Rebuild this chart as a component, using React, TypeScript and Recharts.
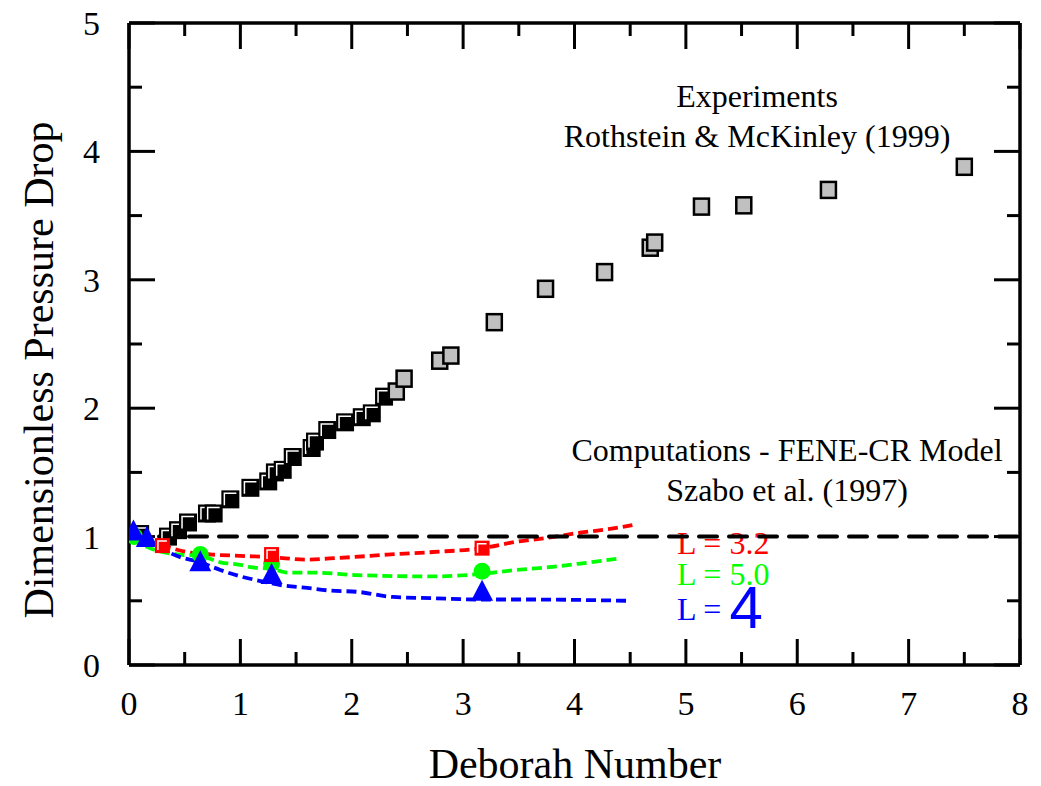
import { ComposedChart, XAxis, YAxis, Line, Scatter, ReferenceLine, Customized } from 'recharts';

const SERIF = '"Liberation Serif", "Times New Roman", serif';
const SANS = '"Liberation Sans", Arial, sans-serif';

const xTicks = [0, 1, 2, 3, 4, 5, 6, 7, 8];
const xMinorTicks = [0.5, 1.5, 2.5, 3.5, 4.5, 5.5, 6.5, 7.5];
const yTicks = [0, 1, 2, 3, 4, 5];
const yMinorTicks = [0.5, 1.5, 2.5, 3.5, 4.5];

// Rothstein & McKinley (1999) - lower De (black) and higher De (grey)
const expBlack = [
  { x: 0.1, y: 1.02 }, { x: 0.35, y: 1.0 }, { x: 0.44, y: 1.05 }, { x: 0.53, y: 1.11 },
  { x: 0.7, y: 1.18 }, { x: 0.76, y: 1.18 }, { x: 0.91, y: 1.29 }, { x: 1.09, y: 1.38 },
  { x: 1.25, y: 1.43 }, { x: 1.31, y: 1.5 }, { x: 1.38, y: 1.52 }, { x: 1.47, y: 1.62 },
  { x: 1.64, y: 1.69 }, { x: 1.67, y: 1.74 }, { x: 1.78, y: 1.83 }, { x: 1.94, y: 1.89 },
  { x: 2.09, y: 1.93 }, { x: 2.18, y: 1.96 }, { x: 2.29, y: 2.09 },
];
const expGray = [
  { x: 2.4, y: 2.13 }, { x: 2.47, y: 2.23 }, { x: 2.79, y: 2.37 }, { x: 2.89, y: 2.41 },
  { x: 3.28, y: 2.67 }, { x: 3.74, y: 2.93 }, { x: 4.27, y: 3.06 }, { x: 4.68, y: 3.25 },
  { x: 4.72, y: 3.29 }, { x: 5.14, y: 3.57 }, { x: 5.52, y: 3.58 }, { x: 6.28, y: 3.7 },
  { x: 7.5, y: 3.88 },
];

// Szabo et al. (1997) FENE-CR computations
const redCurve = [
  { x: 0.03, y: 1.0 }, { x: 0.15, y: 0.96 }, { x: 0.3, y: 0.93 }, { x: 0.52, y: 0.88 },
  { x: 0.75, y: 0.86 }, { x: 1.0, y: 0.85 }, { x: 1.28, y: 0.84 }, { x: 1.6, y: 0.82 },
  { x: 1.8, y: 0.83 }, { x: 2.0, y: 0.84 }, { x: 2.32, y: 0.86 }, { x: 2.73, y: 0.88 },
  { x: 3.17, y: 0.91 }, { x: 3.48, y: 0.96 }, { x: 3.75, y: 0.99 }, { x: 4.05, y: 1.03 },
  { x: 4.32, y: 1.06 }, { x: 4.52, y: 1.09 },
];
const redPoints = [{ x: 0.3, y: 0.93 }, { x: 1.28, y: 0.86 }, { x: 3.17, y: 0.91 }];

const greenCurve = [
  { x: 0.03, y: 0.98 }, { x: 0.22, y: 0.9 }, { x: 0.45, y: 0.86 }, { x: 0.64, y: 0.85 },
  { x: 0.82, y: 0.8 }, { x: 1.0, y: 0.78 }, { x: 1.11, y: 0.76 }, { x: 1.28, y: 0.75 },
  { x: 1.42, y: 0.72 }, { x: 1.65, y: 0.72 }, { x: 2.05, y: 0.7 }, { x: 2.73, y: 0.69 },
  { x: 3.17, y: 0.71 }, { x: 3.48, y: 0.74 }, { x: 3.75, y: 0.76 }, { x: 4.05, y: 0.79 },
  { x: 4.41, y: 0.83 },
];
const greenPoints = [{ x: 0.05, y: 1.0 }, { x: 0.64, y: 0.86 }, { x: 1.28, y: 0.79 }, { x: 3.17, y: 0.73 }];

const blueCurve = [
  { x: 0.03, y: 1.04 }, { x: 0.16, y: 0.97 }, { x: 0.46, y: 0.84 }, { x: 0.64, y: 0.8 },
  { x: 0.82, y: 0.74 }, { x: 1.0, y: 0.69 }, { x: 1.15, y: 0.66 }, { x: 1.38, y: 0.62 },
  { x: 1.6, y: 0.6 }, { x: 1.8, y: 0.58 }, { x: 2.05, y: 0.57 }, { x: 2.37, y: 0.53 },
  { x: 2.73, y: 0.52 }, { x: 3.17, y: 0.51 }, { x: 3.6, y: 0.51 }, { x: 4.48, y: 0.5 },
];
const bluePoints = [{ x: 0.04, y: 1.04 }, { x: 0.16, y: 0.99 }, { x: 0.64, y: 0.8 }, { x: 1.28, y: 0.7 }, { x: 3.17, y: 0.57 }];

const newtonian = [{ x: 0, y: 1 }, { x: 8, y: 1 }];

// inward tick lengths, in axis units (plot is ~891 x 642 px)
const X_MAX = 8;
const Y_MAX = 5;
const tickLenX = (px: number) => (px * X_MAX) / 891;
const tickLenY = (px: number) => (px * Y_MAX) / 642;

const ShadedSquare = (color: string, size: number) => (p: any) => {
  const h = size / 2;
  return (
    <g>
      <rect x={p.cx - h} y={p.cy - h} width={size} height={size} fill={color} />
      <path
        d={`M${p.cx - h + 3} ${p.cy + h - 3} V${p.cy - h + 3} H${p.cx + h - 3}`}
        stroke="#fff"
        strokeWidth={1.5}
        fill="none"
      />
    </g>
  );
};

const GraySquare = (p: any) => (
  <rect x={p.cx - 7.5} y={p.cy - 8} width={15} height={16} fill="#c0c0c0" stroke="#000" strokeWidth={2.5} />
);

const GreenCircle = (p: any) => <circle cx={p.cx} cy={p.cy} r={8.5} fill="#00ff00" />;

const BlueTriangle = (p: any) => (
  <polygon
    points={`${p.cx},${p.cy - 12} ${p.cx + 11},${p.cy + 9} ${p.cx - 11},${p.cy + 9}`}
    fill="#0000ff"
  />
);

const Annotations = () => (
  <g fontFamily={SERIF}>
    <text x={757} y={107} fontSize={32} textAnchor="middle" fill="#000">Experiments</text>
    <text x={757} y={147} fontSize={32} textAnchor="middle" fill="#000">Rothstein &amp; McKinley (1999)</text>
    <text x={787} y={461} fontSize={32} textAnchor="middle" fill="#000">Computations - FENE-CR Model</text>
    <text x={787} y={501} fontSize={32} textAnchor="middle" fill="#000">Szabo et al. (1997)</text>
    <text x={677} y={554} fontSize={32} fill="#ff0000">L = 3.2</text>
    <text x={677} y={585} fontSize={32} fill="#00ff00">L = 5.0</text>
    <text x={677} y={620} fontSize={32} fill="#0000ff">
      L = <tspan fontFamily={SANS} fontSize={60} dy={8}>4</tspan>
    </text>
    <text x={575} y={778} fontSize={42} textAnchor="middle" fill="#000">Deborah Number</text>
    <text x={53} y={370} fontSize={42} textAnchor="middle" fill="#000" transform="rotate(-90 53 370)">
      Dimensionless Pressure Drop
    </text>
  </g>
);

const frameLine = { stroke: '#000', strokeWidth: 3.5 };
const tickProps = { xAxisId: 'main', yAxisId: 'main', stroke: '#000', strokeWidth: 3, ifOverflow: 'visible' as const };

function tickMarks() {
  const marks: any[] = [];
  const add = (ticks: number[], px: number, kind: string) => {
    const lx = tickLenX(px);
    const ly = tickLenY(px);
    ticks.forEach((t) => {
      if (kind === 'x') {
        marks.push(<ReferenceLine key={`b${px}-${t}`} {...tickProps} segment={[{ x: t, y: 0 }, { x: t, y: ly }]} />);
        marks.push(<ReferenceLine key={`t${px}-${t}`} {...tickProps} segment={[{ x: t, y: Y_MAX }, { x: t, y: Y_MAX - ly }]} />);
      } else {
        marks.push(<ReferenceLine key={`l${px}-${t}`} {...tickProps} segment={[{ x: 0, y: t }, { x: lx, y: t }]} />);
        marks.push(<ReferenceLine key={`r${px}-${t}`} {...tickProps} segment={[{ x: X_MAX, y: t }, { x: X_MAX - lx, y: t }]} />);
      }
    });
  };
  add(xTicks, 26, 'x');
  add(xMinorTicks, 13, 'x');
  add(yTicks, 26, 'y');
  add(yMinorTicks, 13, 'y');
  return marks;
}

export default function App() {
  const tickFont = { fontSize: 34, fill: '#000', fontFamily: SERIF };
  return (
    <div style={{ position: 'absolute', left: 0, top: 0, background: '#fff' }}>
      <ComposedChart width={1041} height={786} margin={{ top: 23, right: 21, bottom: 0, left: 0 }}>
        <XAxis xAxisId="main" type="number" dataKey="x" domain={[0, X_MAX]} ticks={xTicks} interval={0}
          allowDataOverflow height={121} tickSize={0} tickMargin={26} tickLine={false} axisLine={frameLine} tick={tickFont} />
        <YAxis yAxisId="main" type="number" dataKey="y" domain={[0, Y_MAX]} ticks={yTicks} interval={0}
          allowDataOverflow width={129} tickSize={0} tickMargin={29} tickLine={false} axisLine={frameLine} tick={tickFont} />

        <ReferenceLine xAxisId="main" yAxisId="main" y={Y_MAX} stroke="#000" strokeWidth={3.5} ifOverflow="visible" />
        <ReferenceLine xAxisId="main" yAxisId="main" x={X_MAX} stroke="#000" strokeWidth={3.5} ifOverflow="visible" />
        {tickMarks()}

        <Scatter xAxisId="main" yAxisId="main" data={expBlack} shape={ShadedSquare('#000', 18)} isAnimationActive={false} />
        <Scatter xAxisId="main" yAxisId="main" data={expGray} shape={GraySquare} isAnimationActive={false} />

        <Line xAxisId="main" yAxisId="main" data={redCurve} dataKey="y" type="monotone" stroke="#ff0000"
          strokeWidth={3.8} strokeDasharray="10 5" dot={false} isAnimationActive={false} />
        <Line xAxisId="main" yAxisId="main" data={greenCurve} dataKey="y" type="monotone" stroke="#00ff00"
          strokeWidth={3.8} strokeDasharray="10 5" dot={false} isAnimationActive={false} />
        <Line xAxisId="main" yAxisId="main" data={blueCurve} dataKey="y" type="monotone" stroke="#0000ff"
          strokeWidth={3.8} strokeDasharray="10 5" dot={false} isAnimationActive={false} />

        <Scatter xAxisId="main" yAxisId="main" data={greenPoints} shape={GreenCircle} isAnimationActive={false} />
        <Scatter xAxisId="main" yAxisId="main" data={bluePoints} shape={BlueTriangle} isAnimationActive={false} />
        <Scatter xAxisId="main" yAxisId="main" data={redPoints} shape={ShadedSquare('#ff0000', 15)} isAnimationActive={false} />

        <Line xAxisId="main" yAxisId="main" data={newtonian} dataKey="y" type="linear" stroke="#000"
          strokeWidth={4} strokeDasharray="18 12" strokeLinecap="round" dot={false} isAnimationActive={false} />

        <Customized component={Annotations} />
      </ComposedChart>
    </div>
  );
}
